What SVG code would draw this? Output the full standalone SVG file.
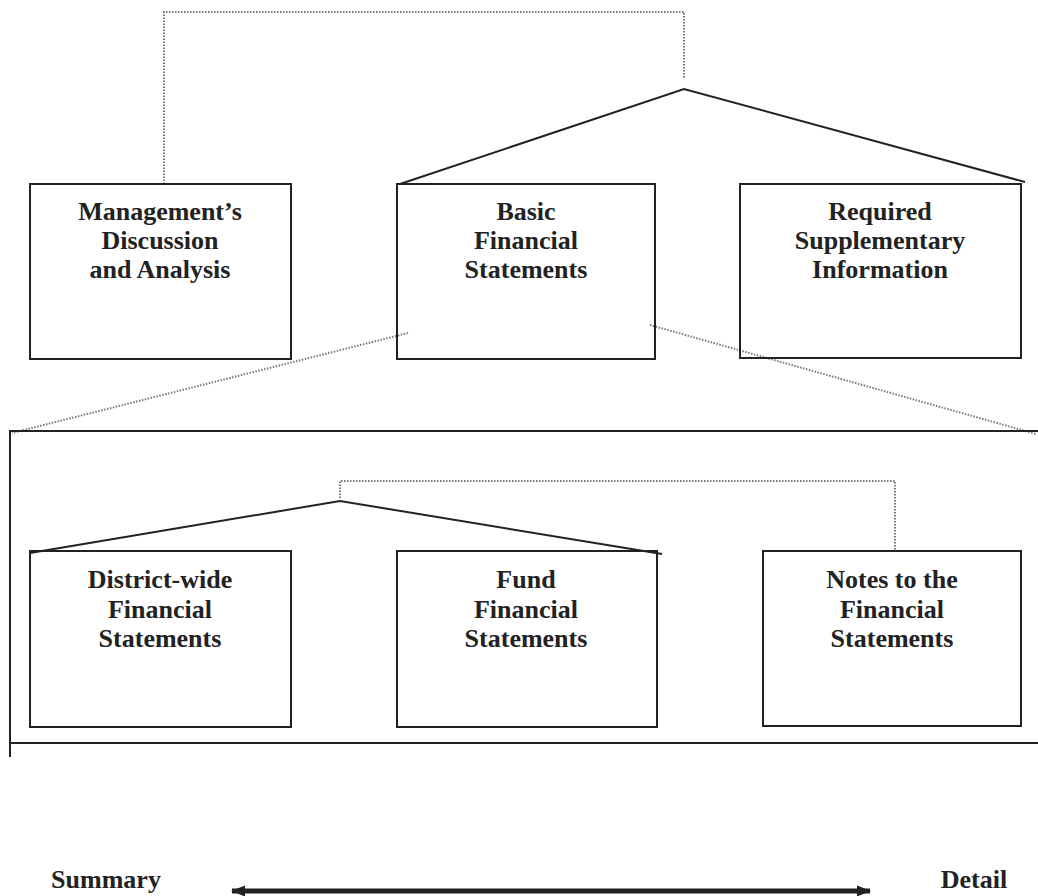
<svg xmlns="http://www.w3.org/2000/svg" width="1038" height="896" viewBox="0 0 1038 896">
<style>
.box{fill:none;stroke:#222;stroke-width:2}
.solid{fill:none;stroke:#222;stroke-width:2}
.dot{fill:none;stroke:#777;stroke-width:2;stroke-dasharray:1.5 1.5}
.t{font-family:"Liberation Serif","Times New Roman",serif;font-weight:bold;font-size:26px;fill:#222;text-anchor:middle}
</style>
<defs>
<marker id="ah" markerWidth="14" markerHeight="12" refX="13" refY="6" orient="auto-start-reverse" markerUnits="userSpaceOnUse">
<path d="M0,0.5 L14,6 L0,11.5 Z" fill="#222"/>
</marker>
</defs>
<rect width="1038" height="896" fill="#fff"/>
<g id="connectors">
<polyline class="dot" points="164,184 164,12 684,12 684,78"/>
<polyline class="solid" points="400,184 684,89 1025,182"/>
<line class="dot" x1="408" y1="333" x2="12" y2="433"/>
<line class="dot" x1="650" y1="325" x2="1036" y2="434"/>
<polyline class="dot" points="340,498 340,481 895,481 895,551"/>
<polyline class="solid" points="30,553 340,501 662,554"/>
<line x1="232" y1="891" x2="870" y2="891" stroke="#222" stroke-width="5" marker-start="url(#ah)" marker-end="url(#ah)"/>
</g>
<g id="container">
<polyline class="solid" points="1038,431 10,431 10,757"/>
<line class="solid" x1="10" y1="743" x2="1038" y2="743"/>
</g>
<g id="mdna">
<rect class="box" x="30" y="184" width="261" height="175"/>
<text class="t" x="160" y="220">Management’s</text>
<text class="t" x="160" y="249">Discussion</text>
<text class="t" x="160" y="278">and Analysis</text>
</g>
<g id="bfs">
<rect class="box" x="397" y="184" width="258" height="175"/>
<text class="t" x="526" y="220">Basic</text>
<text class="t" x="526" y="249">Financial</text>
<text class="t" x="526" y="278">Statements</text>
</g>
<g id="rsi">
<rect class="box" x="740" y="184" width="281" height="174"/>
<text class="t" x="880" y="220">Required</text>
<text class="t" x="880" y="249">Supplementary</text>
<text class="t" x="880" y="278">Information</text>
</g>
<g id="district">
<rect class="box" x="30" y="551" width="261" height="176"/>
<text class="t" x="160" y="588">District-wide</text>
<text class="t" x="160" y="618">Financial</text>
<text class="t" x="160" y="647">Statements</text>
</g>
<g id="fund">
<rect class="box" x="397" y="551" width="260" height="176"/>
<text class="t" x="526" y="588">Fund</text>
<text class="t" x="526" y="618">Financial</text>
<text class="t" x="526" y="647">Statements</text>
</g>
<g id="notes">
<rect class="box" x="763" y="551" width="258" height="175"/>
<text class="t" x="892" y="588">Notes to the</text>
<text class="t" x="892" y="618">Financial</text>
<text class="t" x="892" y="647">Statements</text>
</g>
<g id="scale">
<text class="t" x="106" y="888">Summary</text>
<text class="t" x="974" y="888">Detail</text>
</g>
</svg>
